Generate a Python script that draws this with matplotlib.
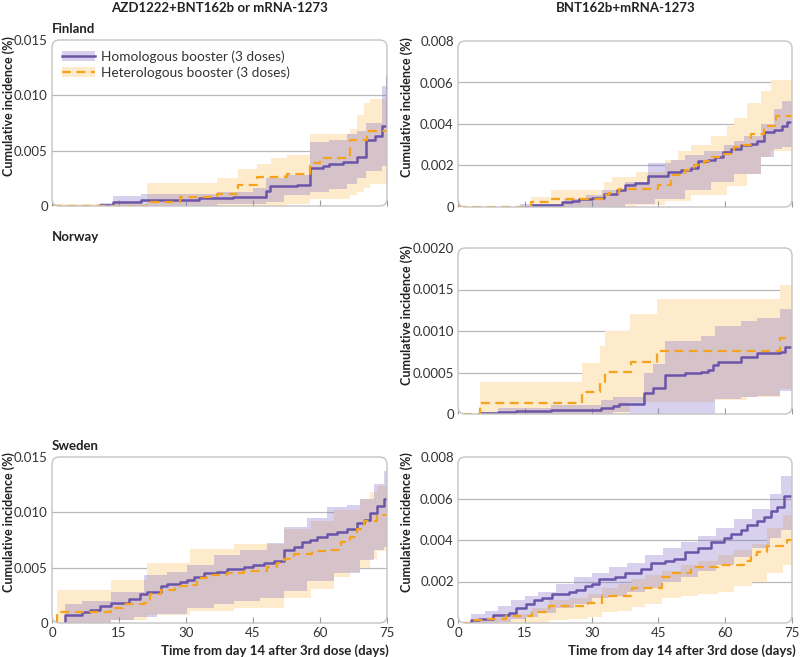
import numpy as np
import matplotlib.pyplot as plt
from matplotlib.patches import FancyBboxPatch, Patch
from matplotlib.lines import Line2D

plt.rcParams['font.family'] = ['Lato', 'DejaVu Sans']

# column / row labels
col_titles = ["AZD1222+BNT162b or mRNA-1273", "BNT162b+mRNA-1273"]
row_titles = ["Finland", "Norway", "Sweden"]
legend_labels = ["Homologous booster (3 doses)", "Heterologous booster (3 doses)"]
x_ticks = [0, 15, 30, 45, 60, 75]
y_title = "Cumulative incidence (%)"
x_title = "Time from day 14 after 3rd dose (days)"

# ---- Finland, AZD1222+BNT162b or mRNA-1273 ----
fa_hom_t = [10.7, 13.7, 20.0, 33.0, 40.6, 48.0, 48.8, 54.8, 57.8, 60.7, 62.0, 65.2, 68.2, 70.4, 72.3, 73.8, 74.9]
fa_hom_v = [0.0001, 0.0004, 0.00054, 0.0007, 0.0008, 0.0014, 0.0018, 0.0019, 0.0034, 0.0036, 0.0038, 0.0040,
            0.0044, 0.0060, 0.0063, 0.0072, 0.0117]
fa_hom_ci_t = [10.7, 13.7, 20.0, 36.9, 45.0, 48.0, 52.0, 57.8, 62.0, 66.0, 68.2, 70.4, 73.8, 74.9]
fa_hom_lo = [0, 0, 0, 0.00015, 0.00015, 0.0004, 0.0010, 0.0013, 0.0015, 0.0020, 0.0025, 0.0032, 0.0036, 0.0036]
fa_hom_hi = [0.0003, 0.0009, 0.0011, 0.0013, 0.0016, 0.0025, 0.0028, 0.0058, 0.0060, 0.0065, 0.0068, 0.0075,
             0.0108, 0.0130]
fa_het_t = [0.3, 21.2, 28.7, 36.9, 41.7, 45.8, 52.5, 57.8, 60.0, 66.7, 70.6]
fa_het_v = [0, 0.0004, 0.0008, 0.0011, 0.0019, 0.0026, 0.0029, 0.0039, 0.0043, 0.0060, 0.0068]
fa_het_ci_t = [0.3, 21.2, 28.7, 36.9, 41.7, 45.8, 49.0, 52.5, 57.8, 66.7, 68.2, 69.8, 71.2]
fa_het_lo = [0, 0, 0, 0, 0, 0, 0, 0.0002, 0.0006, 0.0010, 0.0013, 0.0016, 0.0020]
fa_het_hi = [0.0002, 0.0021, 0.0021, 0.0025, 0.0033, 0.0038, 0.0043, 0.0046, 0.0065, 0.0070, 0.0082, 0.0093, 0.0097]

# ---- Finland, BNT162b+mRNA-1273 ----
fb_hom_t = [13.9, 16.4, 23.4, 25.7, 27.2, 30.1, 32.7, 35.7, 37.5, 39.8, 42.7, 47.2, 50.1, 52.4, 53.9, 56.1,
            57.6, 59.4, 61.3, 63.5, 65.7, 67.2, 68.7, 70.9, 72.8, 73.9]
fb_hom_v = [0, 0.0001, 0.00024, 0.0003, 0.0004, 0.00045, 0.00065, 0.0008, 0.00105, 0.00115, 0.0015, 0.0017,
            0.00177, 0.0019, 0.0022, 0.00225, 0.0024, 0.00265, 0.0028, 0.003, 0.00305, 0.0032, 0.0036, 0.0037,
            0.0039, 0.0041]
fb_hom_ci_t = [13.9, 23.8, 28.7, 32.3, 37.5, 42.7, 44.2, 47.9, 50.9, 55.3, 56.8, 59.8, 62.0, 64.2, 68.0, 70.9, 72.8]
fb_hom_lo = [0, 0, 0, 0, 0.00016, 0.00016, 0.0004, 0.0004, 0.0008, 0.0008, 0.0012, 0.0012, 0.0016, 0.0016,
             0.0024, 0.0028, 0.0029]
fb_hom_hi = [0.00016, 0.0004, 0.00056, 0.0008, 0.0012, 0.0021, 0.0021, 0.00225, 0.0025, 0.0027, 0.0027, 0.003,
             0.0032, 0.0034, 0.004, 0.0047, 0.0051]
fb_het_t = [0, 16.4, 20.8, 32.7, 33.8, 36.1, 44.9, 47.9, 50.9, 53.1, 55.3, 56.8, 59.8, 62.0, 63.9, 65.7, 68.7, 71.3]
fb_het_v = [0, 0.00022, 0.0004, 0.00056, 0.00067, 0.00088, 0.00104, 0.00156, 0.0018, 0.002, 0.0022, 0.0024,
            0.00257, 0.0029, 0.003, 0.0035, 0.0039, 0.0044]
fb_het_ci_t = [16.4, 20.8, 32.7, 34.6, 40.0, 46.4, 49.4, 52.4, 56.8, 60.5, 62.0, 65.0, 68.0, 70.2]
fb_het_lo = [0, 0, 0, 0, 0.0001, 0.0003, 0.0003, 0.0006, 0.0006, 0.001, 0.001, 0.0016, 0.0024, 0.0027]
fb_het_hi = [0.0005, 0.00083, 0.0012, 0.00145, 0.0017, 0.00225, 0.0027, 0.003, 0.0034, 0.0039, 0.0043, 0.005,
             0.0056, 0.0061]

# ---- Norway, BNT162b+mRNA-1273 ----
nb_hom_t = [4.9, 9.0, 13.1, 20.8, 32.0, 34.9, 36.1, 41.8, 43.8, 46.4, 50.9, 54.6, 56.1, 57.2, 58.3, 63.5, 67.2,
            72.4, 73.5]
nb_hom_v = [0.00001, 0.000024, 0.00004, 0.00005, 0.00007, 0.0001, 0.00012, 0.00025, 0.00031, 0.00047, 0.00049,
            0.00051, 0.00053, 0.00059, 0.00063, 0.00069, 0.00073, 0.00075, 0.00081]
nb_hom_ci_t = [4.9, 9.0, 20.8, 32.0, 34.9, 38.7, 41.8, 43.8, 46.4, 54.6, 57.6, 63.5, 67.2, 72.4]
nb_hom_lo = [0, 0, 0, 0, 0.00003, 0, 0, 0, 0, 0, 0.00018, 0.0002, 0.00022, 0.00028]
nb_hom_hi = [0.00003, 0.00007, 0.00011, 0.00017, 0.0002, 0.0002, 0.0005, 0.0006, 0.00088, 0.00094, 0.00106,
             0.00112, 0.00116, 0.00126]
nb_het_t = [1.2, 4.9, 27.9, 31.8, 33.1, 38.8, 44.6, 72.4]
nb_het_v = [0, 0.00013, 0.00026, 0.00038, 0.00051, 0.00063, 0.00076, 0.00091]
nb_het_ci_t = [4.9, 27.9, 31.8, 33.1, 38.7, 44.6, 57.6, 65.0, 72.4]
nb_het_lo = [0, 0, 0, 0, 0.00015, 0.00015, 0.00017, 0.0002, 0.0003]
nb_het_hi = [0.00039, 0.00061, 0.00082, 0.001, 0.0012, 0.00138, 0.00138, 0.00138, 0.00156]

# ---- Sweden, AZD1222+BNT162b or mRNA-1273 ----
sa_hom_t = [2.95, 3.0, 6.7, 8.6, 10.8, 13.1, 17.2, 19.8, 21.3, 24.3, 25.7, 28.7, 30.2, 31.7, 34.0, 36.9, 39.2,
            42.9, 45.1, 47.4, 49.6, 51.9, 54.1, 56.0, 57.8, 59.3, 61.6, 63.8, 66.0, 68.3, 69.8, 71.3, 72.8, 74.3]
sa_hom_v = [0, 0.00075, 0.001, 0.0012, 0.0015, 0.0018, 0.0022, 0.0026, 0.0028, 0.0033, 0.0035, 0.0037, 0.0039,
            0.0042, 0.0045, 0.0046, 0.0049, 0.0051, 0.0052, 0.0054, 0.0056, 0.0066, 0.0069, 0.0073, 0.0075,
            0.0078, 0.008, 0.0082, 0.0085, 0.009, 0.0093, 0.0099, 0.0106, 0.0112]
sa_hom_ci_t = [3.0, 6.7, 10.8, 13.1, 18.3, 20.5, 23.5, 25.7, 30.2, 36.2, 40.7, 42.2, 46.6, 48.1, 51.9, 57.1,
               61.6, 63.1, 66.0, 69.0, 72.0, 74.3]
sa_hom_lo = [0, 0, 0, 0.00024, 0.0005, 0.0005, 0.00085, 0.00085, 0.0014, 0.0017, 0.002, 0.002, 0.0023, 0.0023,
             0.0029, 0.0038, 0.0038, 0.0045, 0.0045, 0.0057, 0.0066, 0.0069]
sa_hom_hi = [0.0017, 0.002, 0.002, 0.0028, 0.0028, 0.0043, 0.0043, 0.0046, 0.0052, 0.0061, 0.0061, 0.0066,
             0.0066, 0.0072, 0.0087, 0.0095, 0.0105, 0.0105, 0.0107, 0.0112, 0.0126, 0.0137]
sa_het_t = [1.1, 1.15, 13.1, 16.0, 20.5, 22.0, 24.3, 27.6, 30.2, 32.5, 34.7, 39.2, 42.9, 48.1, 50.4, 51.9, 54.1,
            58.2, 61.6, 64.6, 66.8, 68.3, 69.8, 72.8]
sa_het_v = [0, 0.00095, 0.0014, 0.0017, 0.0018, 0.0026, 0.003, 0.0033, 0.0034, 0.0041, 0.0043, 0.0045, 0.0047,
            0.0051, 0.0054, 0.0058, 0.0062, 0.0065, 0.0066, 0.0073, 0.0078, 0.0085, 0.0092, 0.0098]
sa_het_ci_t = [1.1, 10.8, 13.1, 21.3, 31.0, 40.7, 51.9, 58.0, 63.1, 66.8, 69.0, 71.3, 72.8]
sa_het_lo = [0, 0, 0.00024, 0.0007, 0.0011, 0.0014, 0.0023, 0.0031, 0.0042, 0.0046, 0.005, 0.0058, 0.0065]
sa_het_hi = [0.003, 0.003, 0.0039, 0.0054, 0.0067, 0.0071, 0.0085, 0.0092, 0.0102, 0.0102, 0.0112, 0.0118, 0.0124]

# ---- Sweden, BNT162b+mRNA-1273 ----
sb_hom_t = [2.95, 3.0, 4.8, 7.8, 11.5, 13.0, 15.2, 17.1, 18.9, 21.2, 24.9, 26.4, 28.6, 30.1, 31.6, 35.3, 37.5,
            41.2, 43.4, 46.4, 48.6, 50.9, 53.8, 56.8, 59.8, 61.2, 63.5, 65.0, 67.2, 68.7, 70.2, 71.6, 73.1]
sb_hom_v = [0, 0.00016, 0.0002, 0.00037, 0.00048, 0.0007, 0.0009, 0.0011, 0.0012, 0.0014, 0.0015, 0.0016,
            0.0018, 0.0019, 0.0021, 0.0022, 0.0024, 0.0026, 0.0029, 0.003, 0.0031, 0.0034, 0.0036, 0.0039,
            0.0041, 0.0043, 0.0045, 0.0047, 0.0049, 0.0051, 0.0054, 0.0056, 0.0061]
sb_hom_ci_t = [3.0, 6.0, 9.0, 12.0, 15.0, 18.0, 22.0, 26.0, 30.0, 34.0, 38.0, 42.0, 46.0, 50.0, 54.0, 58.0,
               62.0, 66.0, 70.0, 72.5]
sb_hom_lo = [0, 0, 0.00005, 0.0002, 0.0003, 0.0005, 0.0007, 0.0009, 0.0012, 0.0013, 0.0015, 0.0017, 0.002,
             0.0022, 0.0025, 0.0028, 0.0032, 0.0036, 0.0041, 0.0045]
sb_hom_hi = [0.00045, 0.0006, 0.0008, 0.0011, 0.0013, 0.0015, 0.0019, 0.0022, 0.0024, 0.0027, 0.0029, 0.0033,
             0.0036, 0.0039, 0.0042, 0.0046, 0.005, 0.0055, 0.0062, 0.0071]
sb_het_t = [1.0, 3.7, 6.3, 10.8, 16.7, 20.4, 29.3, 32.3, 39.0, 45.7, 47.9, 52.3, 58.3, 64.2, 65.7, 67.2, 69.4, 73.9]
sb_het_v = [0, 0.00013, 0.0002, 0.00034, 0.00053, 0.0008, 0.00096, 0.0013, 0.0017, 0.0022, 0.0024, 0.0027,
            0.0028, 0.003, 0.0033, 0.0034, 0.0037, 0.004]
sb_het_ci_t = [3.7, 8.0, 12.0, 16.7, 20.4, 25.0, 29.3, 32.3, 36.0, 39.0, 42.0, 45.7, 50.0, 54.0, 58.3, 62.0,
               66.0, 69.4, 73.0]
sb_het_lo = [0, 0, 0, 0, 0.00013, 0.0002, 0.0003, 0.00053, 0.0006, 0.00077, 0.0009, 0.0012, 0.0013, 0.0014,
             0.0015, 0.0018, 0.002, 0.0024, 0.0028]
sb_het_hi = [0.0002, 0.00035, 0.00045, 0.0007, 0.0011, 0.0012, 0.0014, 0.0017, 0.0019, 0.0021, 0.0023, 0.0025,
             0.0028, 0.003, 0.0033, 0.0035, 0.0038, 0.0046, 0.0052]

yt_az = [0, 0.005, 0.010, 0.015]
yl_az = ["0", "0.005", "0.010", "0.015"]
yt_bnt = [0, 0.002, 0.004, 0.006, 0.008]
yl_bnt = ["0", "0.002", "0.004", "0.006", "0.008"]
yt_nor = [0, 0.0005, 0.0010, 0.0015, 0.0020]
yl_nor = ["0", "0.0005", "0.0010", "0.0015", "0.0020"]

PURPLE = '#6a55a8'
PURPLE_FILL = '#7b68c8'
ORANGE = '#f5a21c'
ORANGE_FILL = '#feebcb'
TXT = '#222222'
XMAX = 75


def ext(t, v):
    # carry the last value out to the end of follow-up
    return list(t) + [XMAX], list(v) + [v[-1]]


def draw_panel(ax, hom, het, yt, yl, xlabels):
    ht, hv, hct, hlo, hhi = hom
    et, ev, ect, elo, ehi = het
    t, lo = ext(ect, elo)
    _, hi = ext(ect, ehi)
    ax.fill_between(t, lo, hi, step='post', color=ORANGE_FILL, lw=0, zorder=1)
    t, lo = ext(hct, hlo)
    _, hi = ext(hct, hhi)
    ax.fill_between(t, lo, hi, step='post', color=PURPLE_FILL, alpha=0.3, lw=0, zorder=2)
    t, v = ext(ht, hv)
    ax.step(t, v, where='post', color=PURPLE, lw=1.8, zorder=4)
    t, v = ext(et, ev)
    ax.step(t, v, where='post', color=ORANGE, lw=1.6, dashes=(4, 2.5), zorder=5)
    style_axes(ax, yt, yl, xlabels)


def style_axes(ax, yt, yl, xlabels):
    ax.set_xlim(0, XMAX)
    ax.set_ylim(yt[0], yt[-1])
    for s in ax.spines.values():
        s.set_visible(False)
    for y in yt[1:-1]:
        ax.axhline(y, color='#b8b8b8', lw=0.9, zorder=0.5)
    ax.set_yticks(yt)
    ax.set_yticklabels(yl)
    ax.set_xticks(x_ticks)
    ax.tick_params(axis='y', length=0, pad=3, labelsize=9.5, labelcolor='#333333')
    ax.tick_params(axis='x', direction='in', length=4, color='#999999', width=0.8,
                   labelsize=9.5, labelcolor='#333333', pad=3)
    if not xlabels:
        ax.set_xticklabels([])
    box = FancyBboxPatch((0, 0), 1, 1, boxstyle="round,pad=0,rounding_size=0.022",
                         mutation_aspect=2.0, transform=ax.transAxes, facecolor='none',
                         edgecolor='#c4c4c4', lw=1.0, clip_on=False, zorder=6)
    ax.add_patch(box)


fig = plt.figure(figsize=(8, 6.57), dpi=100)
W, H = 800, 657


def add_ax(left, top, right, bottom):
    return fig.add_axes([left / W, 1 - bottom / H, (right - left) / W, (bottom - top) / H])


ax_fa = add_ax(52, 40, 387, 206)
ax_fb = add_ax(458, 41, 792, 207)
ax_nb = add_ax(458, 248, 792, 414)
ax_sa = add_ax(52, 457, 387, 623)
ax_sb = add_ax(458, 457, 792, 623)

draw_panel(ax_fa, (fa_hom_t, fa_hom_v, fa_hom_ci_t, fa_hom_lo, fa_hom_hi),
           (fa_het_t, fa_het_v, fa_het_ci_t, fa_het_lo, fa_het_hi), yt_az, yl_az, False)
draw_panel(ax_fb, (fb_hom_t, fb_hom_v, fb_hom_ci_t, fb_hom_lo, fb_hom_hi),
           (fb_het_t, fb_het_v, fb_het_ci_t, fb_het_lo, fb_het_hi), yt_bnt, yl_bnt, False)
draw_panel(ax_nb, (nb_hom_t, nb_hom_v, nb_hom_ci_t, nb_hom_lo, nb_hom_hi),
           (nb_het_t, nb_het_v, nb_het_ci_t, nb_het_lo, nb_het_hi), yt_nor, yl_nor, False)
draw_panel(ax_sa, (sa_hom_t, sa_hom_v, sa_hom_ci_t, sa_hom_lo, sa_hom_hi),
           (sa_het_t, sa_het_v, sa_het_ci_t, sa_het_lo, sa_het_hi), yt_az, yl_az, True)
draw_panel(ax_sb, (sb_hom_t, sb_hom_v, sb_hom_ci_t, sb_hom_lo, sb_hom_hi),
           (sb_het_t, sb_het_v, sb_het_ci_t, sb_het_lo, sb_het_hi), yt_bnt, yl_bnt, True)

# y titles, top-aligned a little above each panel
for x, top in [(9, 36), (9, 452), (407, 37), (407, 245), (407, 452)]:
    fig.text(x / W, 1 - top / H, y_title, rotation=90, ha='center', va='top', fontsize=9,
             fontweight='bold', color=TXT)

# x titles, right-aligned under the bottom panels
for x in (389, 796):
    fig.text(x / W, 1 - 651 / H, x_title, ha='right', va='center', fontsize=9.5,
             fontweight='bold', color=TXT)

# legend: band patch behind the line
h_hom = (Patch(facecolor=PURPLE_FILL, alpha=0.3, lw=0), Line2D([], [], color=PURPLE, lw=1.8))
h_het = (Patch(facecolor=ORANGE_FILL, lw=0), Line2D([], [], color=ORANGE, lw=1.6, dashes=(4, 2.5)))
ax_fa.legend([h_hom, h_het], legend_labels, loc='upper left', frameon=False, fontsize=9.8,
             handlelength=2.4, handletextpad=0.45, borderaxespad=0.35, labelspacing=0.25,
             labelcolor='#333333')

fig.text(219 / W, 1 - 8 / H, col_titles[0], ha='center', va='center', fontsize=9.5, fontweight='bold',
         color=TXT)
fig.text(626 / W, 1 - 8 / H, col_titles[1], ha='center', va='center', fontsize=9.5, fontweight='bold',
         color=TXT)
for name, y in zip(row_titles, [29, 237, 446]):
    fig.text(52 / W, 1 - y / H, name, ha='left', va='center', fontsize=9.5, fontweight='bold', color=TXT)

fig.savefig('out.png', dpi=100)
